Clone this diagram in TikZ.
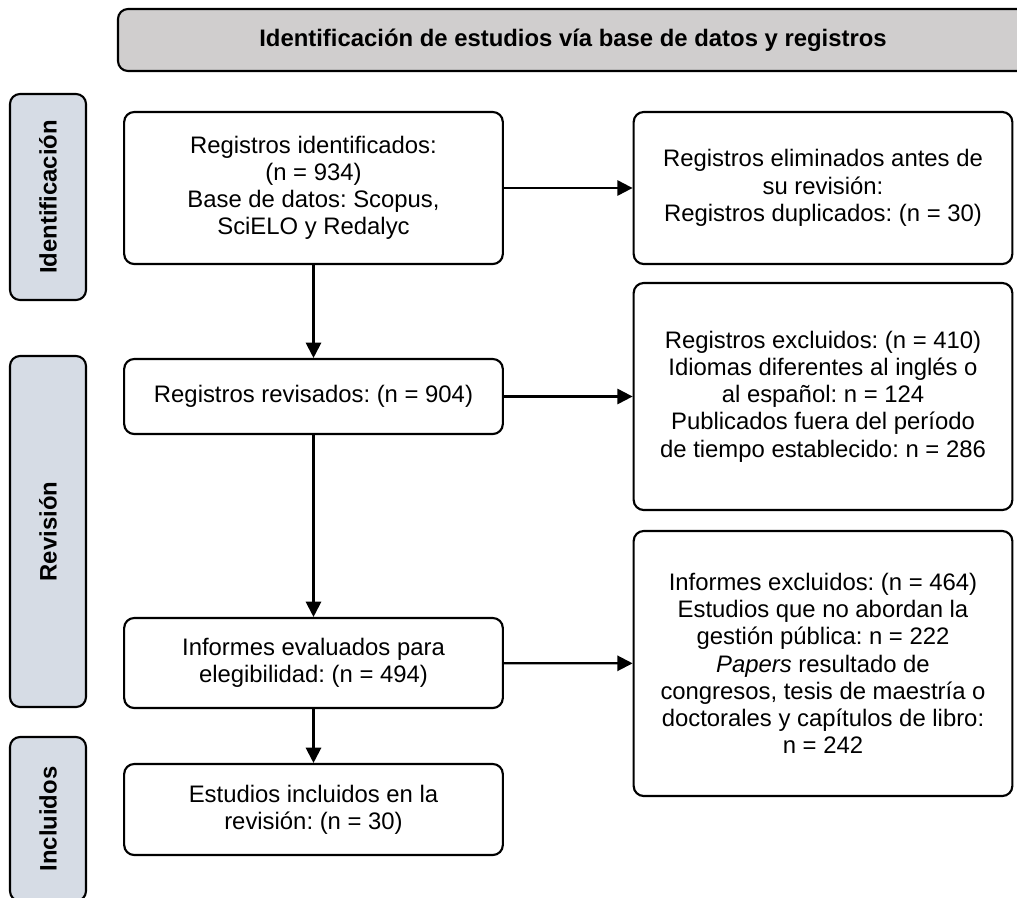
\documentclass[tikz,border=0pt]{standalone}
\usepackage{fontspec}
\setmainfont{Liberation Sans}
\usetikzlibrary{arrows.meta}
\definecolor{hdrgray}{HTML}{D0CECE}
\definecolor{lblblue}{HTML}{D6DCE5}
\frenchspacing
\begin{document}
\frenchspacing
\begin{tikzpicture}[x=0.75pt,y=-0.75pt,
  every node/.style={font=\fontsize{17.9pt}{20.4pt}\selectfont, inner sep=0pt},
  flowbox/.style={draw, line width=1.6pt, rounded corners=7.5pt, fill=white, align=center, minimum width=284pt},
  hdrbox/.style={draw, line width=1.6pt, rounded corners=7.5pt, fill=hdrgray, align=center, font=\fontsize{17.9pt}{20.4pt}\selectfont\bfseries},
  lblbox/.style={draw, line width=1.6pt, rounded corners=7.5pt, fill=lblblue, rotate=90, minimum height=57pt, font=\fontsize{17.9pt}{20.4pt}\selectfont\bfseries},
  arr/.style={line width=1.6pt, -{Triangle[length=11.5pt,width=11.5pt]}}
]
\useasboundingbox (0,0) rectangle (1017,897);
\fill[white] (0,0) rectangle (1017,897);

% header
\node[hdrbox, minimum width=682.5pt, minimum height=46.5pt] (hdr) at (573,40) {\raisebox{2pt}{Identificación de estudios vía base de datos y registros}};

% phase labels
\node[lblbox, minimum width=154.5pt] (lid) at (48,197) {Identificación};
\node[lblbox, minimum width=263.25pt] (lrev) at (48,531.5) {Revisión};
\node[lblbox, minimum width=123pt] (linc) at (48,819) {Incluidos};

% left column
\node[flowbox, minimum height=114pt] (b1) at (313.5,188) {Registros identificados:\\(n = 934)\\Base de datos: Scopus,\\SciELO y Redalyc};
\node[flowbox, minimum height=56.25pt] (b2) at (313.5,396.5) {Registros revisados: (n = 904)};
\node[flowbox, minimum height=67.5pt] (b3) at (313.5,663) {Informes evaluados para\\elegibilidad: (n = 494)};
\node[flowbox, minimum height=68.25pt] (b4) at (313.5,809.5) {Estudios incluidos en la\\revisión: (n = 30)};

% right column
\node[flowbox, minimum height=114pt] (r1) at (823,188) {Registros eliminados antes de\\su revisión:\\Registros duplicados: (n = 30)};
\node[flowbox, minimum height=170.25pt] (r2) at (823,396.5) {Registros excluidos: (n = 410)\\Idiomas diferentes al inglés o\\al español: n = 124\\Publicados fuera del período\\de tiempo establecido: n = 286};
\node[flowbox, minimum height=198.75pt] (r3) at (823,663.5) {Informes excluidos: (n = 464)\\Estudios que no abordan la\\gestión pública: n = 222\\\textit{Papers} resultado de\\congresos, tesis de maestría o\\doctorales y capítulos de libro:\\n = 242};

% connectors
\draw[arr] (b1) -- (r1);
\draw[arr] (b2) -- (r2);
\draw[arr] (b3) -- (r3);
\draw[arr] (b1) -- (b2);
\draw[arr] (b2) -- (b3);
\draw[arr] (b3) -- (b4);
\end{tikzpicture}
\end{document}
